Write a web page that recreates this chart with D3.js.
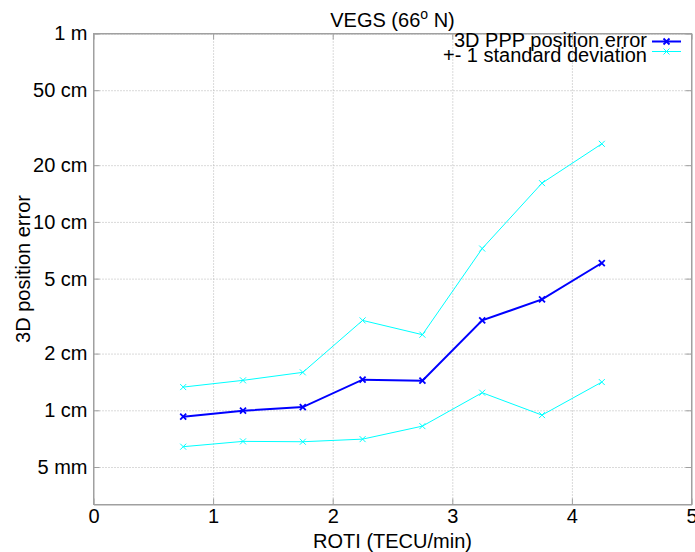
<!DOCTYPE html>
<html>
<head>
<meta charset="utf-8">
<script src="https://cdn.jsdelivr.net/npm/d3@7"></script>
<style>
    body { margin: 0; background: #fff; }
    svg text { font-family: "Liberation Sans", Arial, sans-serif; fill: #000; }
</style>
</head>
<body>
<div id="chart"></div>
<script>
// ROTI bins (TECU/min) and 3D PPP position error (metres)
const roti = [0.75, 1.25, 1.75, 2.25, 2.75, 3.25, 3.75, 4.25];
const errMean = [0.00925, 0.00995, 0.0104, 0.01454, 0.01437, 0.0300, 0.0388, 0.0605];
const errUpper = [0.01328, 0.01442, 0.0159, 0.0300, 0.0252, 0.0722, 0.1606, 0.2597];
const errLower = [0.00641, 0.00684, 0.00681, 0.00703, 0.00824, 0.0124, 0.00943, 0.01412];

const xTicks = [0, 1, 2, 3, 4, 5];
const yTicks = [0.005, 0.01, 0.02, 0.05, 0.1, 0.2, 0.5, 1];
const yTickLabels = ["5 mm", "1 cm", "2 cm", "5 cm", "10 cm", "20 cm", "50 cm", "1 m"];

const margin = {top: 33.5, right: 3.5, bottom: 47.5, left: 93.5},
    width = 695 - margin.left - margin.right,
    height = 552 - margin.top - margin.bottom;

const frameColor = "#a0a0a0";

const svgRoot = d3.select("#chart").append("svg")
    .attr("width", 695)
    .attr("height", 552);

const svg = svgRoot.append("g")
    .attr("transform", "translate(" + margin.left + "," + margin.top + ")");

const x = d3.scaleLinear().domain([0, 5]).range([0, width]);
const y = d3.scaleLog().domain([Math.pow(10, -2.5), 1]).range([height, 0]);

// grid
const grid = svg.append("g").attr("class", "grid");
grid.append("g")
    .attr("transform", "translate(0," + height + ")")
    .call(d3.axisBottom(x).tickValues(xTicks.slice(1, -1)).tickSize(-height).tickFormat(""));
grid.append("g")
    .call(d3.axisLeft(y).tickValues(yTicks).tickSize(-width).tickFormat(""));
grid.selectAll(".domain").remove();
grid.selectAll("line")
    .attr("stroke", "#b4b4b4")
    .attr("stroke-dasharray", "1,2");

// axes with inward ticks, mirrored
function styleAxis(g) {
    g.selectAll(".domain").attr("stroke", frameColor);
    g.selectAll(".tick line").attr("stroke", frameColor);
    g.selectAll("text").style("font-size", "20px");
}

const xAxis = svg.append("g")
    .attr("transform", "translate(0," + height + ")")
    .call(d3.axisBottom(x).tickValues(xTicks).tickSizeInner(-6).tickSizeOuter(0).tickPadding(4)
        .tickFormat(d3.format("d")));
styleAxis(xAxis);

svg.append("g")
    .call(d3.axisTop(x).tickValues(xTicks).tickSizeInner(-6).tickSizeOuter(0).tickFormat(""))
    .call(styleAxis);

const yAxis = svg.append("g")
    .call(d3.axisLeft(y).tickValues(yTicks).tickSizeInner(-6).tickSizeOuter(0).tickPadding(6)
        .tickFormat((d, i) => yTickLabels[i]));
styleAxis(yAxis);

svg.append("g")
    .attr("transform", "translate(" + width + ",0)")
    .call(d3.axisRight(y).tickValues(yTicks).tickSizeInner(-6).tickSizeOuter(0).tickFormat(""))
    .call(styleAxis);

// series
const line = d3.line()
    .x(d => x(d[0]))
    .y(d => y(d[1]));

function drawCross(g, cx, cy, r, color, w) {
    g.append("path")
        .attr("d", "M" + (cx - r) + "," + (cy - r) + "L" + (cx + r) + "," + (cy + r) +
            "M" + (cx - r) + "," + (cy + r) + "L" + (cx + r) + "," + (cy - r))
        .attr("stroke", color)
        .attr("stroke-width", w)
        .attr("fill", "none");
}

const series = [
    {values: errUpper, color: "#00ffff", w: 1},
    {values: errLower, color: "#00ffff", w: 1},
    {values: errMean, color: "#0000ff", w: 2}
];

series.forEach(s => {
    const pts = roti.map((r, i) => [r, s.values[i]]);
    svg.append("path")
        .datum(pts)
        .attr("d", line)
        .attr("fill", "none")
        .attr("stroke", s.color)
        .attr("stroke-width", s.w);
    const mk = svg.append("g");
    pts.forEach(p => drawCross(mk, x(p[0]), y(p[1]), 3, s.color, s.w === 2 ? 1.8 : 1));
});

// frame on top
svg.append("rect")
    .attr("width", width)
    .attr("height", height)
    .attr("fill", "none")
    .attr("stroke", frameColor);

// title
const title = svgRoot.append("text")
    .attr("x", margin.left + width / 2)
    .attr("y", 27)
    .attr("text-anchor", "middle")
    .style("font-size", "20px");
title.append("tspan").text("VEGS (66");
title.append("tspan").attr("dy", -8).style("font-size", "14px").text("o");
title.append("tspan").attr("dy", 8).text(" N)");

// axis labels
svgRoot.append("text")
    .attr("x", margin.left + width / 2)
    .attr("y", 548)
    .attr("text-anchor", "middle")
    .style("font-size", "20px")
    .text("ROTI (TECU/min)");

svgRoot.append("text")
    .attr("transform", "translate(30," + (margin.top + height / 2) + ") rotate(-90)")
    .attr("text-anchor", "middle")
    .style("font-size", "20px")
    .text("3D position error");

// legend
const legendItems = [
    {label: "3D PPP position error", color: "#0000ff", w: 2, ty: 47, ly: 41.5},
    {label: "+- 1 standard deviation", color: "#00ffff", w: 1, ty: 61.5, ly: 51.5}
];
const legend = svgRoot.append("g");
legendItems.forEach(d => {
    legend.append("text")
        .attr("x", 647)
        .attr("y", d.ty)
        .attr("text-anchor", "end")
        .style("font-size", "20px")
        .text(d.label);
    legend.append("line")
        .attr("x1", 652).attr("x2", 681)
        .attr("y1", d.ly).attr("y2", d.ly)
        .attr("stroke", d.color)
        .attr("stroke-width", d.w);
    drawCross(legend, 666.5, d.ly, 3, d.color, d.w === 2 ? 1.8 : 1);
});
</script>
</body>
</html>
